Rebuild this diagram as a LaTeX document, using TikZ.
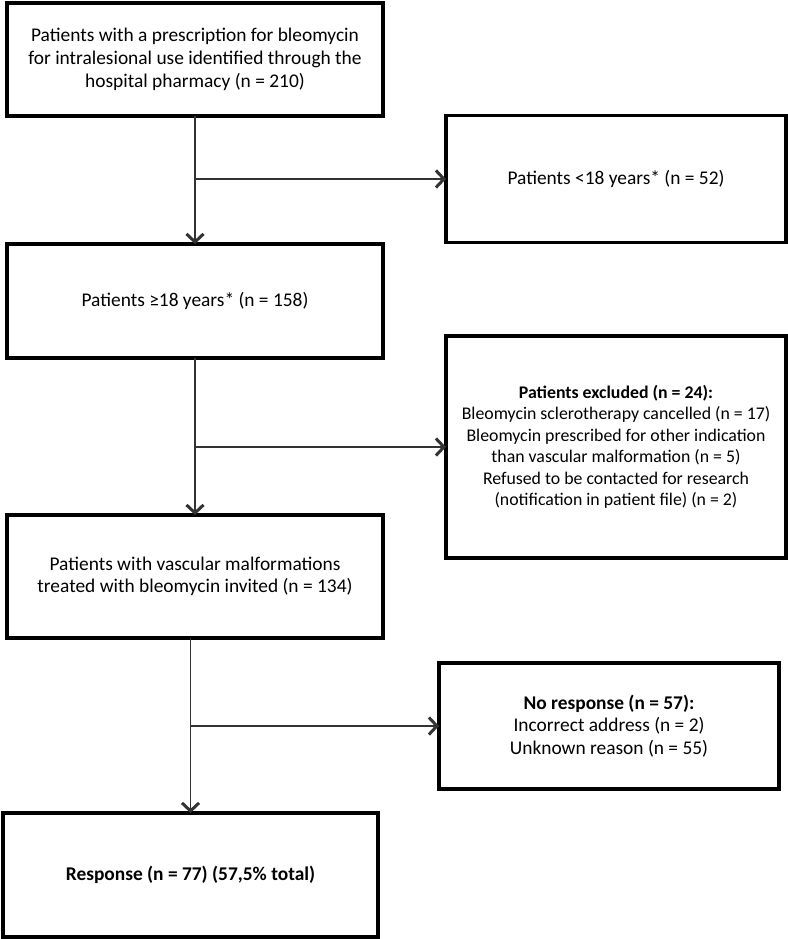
\documentclass[tikz,border=0pt]{standalone}
\usepackage{fontspec}
\setmainfont{Carlito}
\usetikzlibrary{arrows.meta}
\begin{document}
\begin{tikzpicture}[x=1pt,y=-1pt,
  box/.style={draw=black,line width=3.3pt,inner sep=0pt,outer sep=0pt,align=center,font=\fontsize{19.4}{22.8}\selectfont,text=black},
  conn/.style={draw=black!80,line width=1.2pt,-{Straight Barb[length=8pt,width=17pt,line width=3pt]}}]
\useasboundingbox (0,0) rectangle (787,939);
\node[box,minimum width=376pt,minimum height=113pt] (b1) at (195,59.5) {Patients with a prescription for bleomycin\\for intralesional use identified through the\\hospital pharmacy (n = 210)};
\node[box,minimum width=340pt,minimum height=127pt] (b2) at (616,179) {Patients <18 years* (n = 52)};
\node[box,minimum width=376pt,minimum height=114pt] (b3) at (195,301) {Patients ≥18 years* (n = 158)};
\node[box,minimum width=340pt,minimum height=222pt,font=\fontsize{17.8}{21.5}\selectfont] (b4) at (616,447) {\textbf{Patients excluded (n = 24):}\\Bleomycin sclerotherapy cancelled (n = 17)\\Bleomycin prescribed for other indication\\than vascular malformation (n = 5)\\Refused to be contacted for research\\(notification in patient file) (n = 2)};
\node[box,minimum width=376pt,minimum height=123pt,font=\fontsize{19.4}{22}\selectfont] (b5) at (195,576.5) {Patients with vascular malformations\\treated with bleomycin invited (n = 134)};
\node[box,minimum width=340pt,minimum height=126pt] (b6) at (609,726) {\textbf{No response (n = 57):}\\Incorrect address (n = 2)\\Unknown reason (n = 55)};
\node[box,minimum width=375pt,minimum height=124pt] (b7) at (190.5,875) {\textbf{Response (n = 77) (57,5\% total)}};
\draw[conn] (b1.south) -- (b3.north);
\draw[conn] (b1.south |- b2.west) -- (b2.west);
\draw[conn] (b3.south) -- (b5.north);
\draw[conn] (b3.south |- b4.west) -- (b4.west);
\draw[conn] (b7.north |- b5.south) -- (b7.north);
\draw[conn] (b7.north |- b6.west) -- (b6.west);
\end{tikzpicture}
\end{document}
